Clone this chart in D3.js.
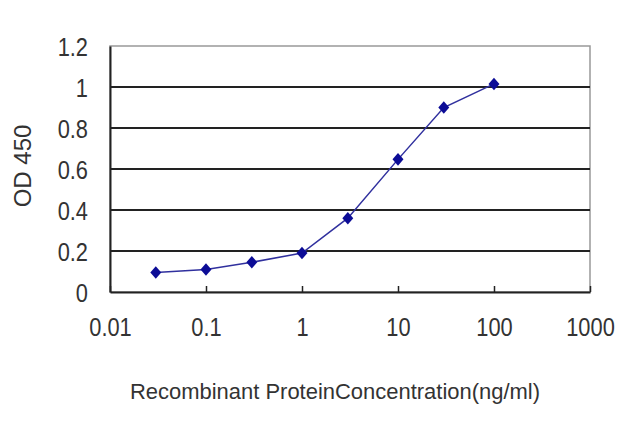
<!DOCTYPE html>
<html>
<head>
<meta charset="utf-8">
<script src="https://cdn.jsdelivr.net/npm/d3@7"></script>
<style>
  body { margin: 0; background: #fff; }
  text { font-family: "Liberation Sans", Arial, sans-serif; fill: #222; }
</style>
</head>
<body>
<div id="chart"></div>
<script>
var width_chart = 640,
    height_chart = 427;

// data
var concentration = [0.03, 0.1, 0.3, 1, 3, 10, 30, 100];
var od450 = [0.095, 0.11, 0.145, 0.19, 0.36, 0.647, 0.9, 1.015];
var x_ticks = [0.01, 0.1, 1, 10, 100, 1000];
var x_tick_labels = ["0.01", "0.1", "1", "10", "100", "1000"];
var y_ticks = [0, 0.2, 0.4, 0.6, 0.8, 1, 1.2];
var y_tick_labels = ["0", "0.2", "0.4", "0.6", "0.8", "1", "1.2"];

var margin = { left: 110, right: 50, top: 46, bottom: 135 };
var plot_w = width_chart - margin.left - margin.right,
    plot_h = height_chart - margin.top - margin.bottom;

var svg = d3.select("#chart").append("svg")
    .attr("width", width_chart)
    .attr("height", height_chart);

var g = svg.append("g")
    .attr("transform", "translate(" + margin.left + "," + margin.top + ")");

var x = d3.scaleLog().domain([0.01, 1000]).range([0, plot_w]);
var y = d3.scaleLinear().domain([0, 1.2]).range([plot_h, 0]);

// grey frame top/right
g.append("rect")
    .attr("x", 0).attr("y", 0)
    .attr("width", plot_w).attr("height", plot_h)
    .style("fill", "none")
    .style("stroke", "#999")
    .style("stroke-width", 1.5);

// gridlines
g.selectAll("line.grid")
    .data(y_ticks.filter(function(d) { return d > 0 && d < 1.2; }))
    .enter().append("line")
    .attr("class", "grid")
    .attr("x1", 0).attr("x2", plot_w)
    .attr("y1", function(d) { return y(d); })
    .attr("y2", function(d) { return y(d); })
    .style("stroke", "#222")
    .style("stroke-width", 2);

// x axis
var xAxis = d3.axisBottom(x)
    .tickValues(x_ticks)
    .tickSizeInner(-6)
    .tickSizeOuter(0)
    .tickFormat(function(d, i) { return x_tick_labels[i]; });

var gx = g.append("g")
    .attr("transform", "translate(0," + plot_h + ")")
    .call(xAxis);
gx.select(".domain").style("stroke", "#222").style("stroke-width", 2);
gx.selectAll(".tick line").style("stroke", "#222").style("stroke-width", 1.5);
gx.selectAll(".tick text")
    .attr("y", 0)
    .attr("dy", 0)
    .attr("transform", "translate(0,44) scale(0.95,1.15)")
    .style("font-size", "23px")
    .style("font-family", "Liberation Sans, Arial, sans-serif")
    .style("fill", "#333");

// y axis
var yAxis = d3.axisLeft(y)
    .tickValues(y_ticks)
    .tickSize(0)
    .tickPadding(22)
    .tickFormat(function(d, i) { return y_tick_labels[i]; });

var gy = g.append("g").call(yAxis);
gy.select(".domain").style("stroke", "#222").style("stroke-width", 2);
gy.selectAll(".tick text")
    .attr("x", 0)
    .attr("dy", 0)
    .attr("transform", "translate(-22,9) scale(0.95,1.15)")
    .style("font-size", "23px")
    .style("font-family", "Liberation Sans, Arial, sans-serif")
    .style("fill", "#333");

// curve
var points = concentration.map(function(c, i) { return { c: c, v: od450[i] }; });

var line = d3.line()
    .x(function(d) { return x(d.c); })
    .y(function(d) { return y(d.v); });

g.append("path")
    .datum(points)
    .attr("d", line)
    .style("fill", "none")
    .style("stroke", "#30309e")
    .style("stroke-width", 1.5);

// square diamond, a bit taller than wide
var diamond = d3.symbol().type(d3.symbolSquare).size(60);

g.selectAll("path.marker")
    .data(points)
    .enter().append("path")
    .attr("class", "marker")
    .attr("d", diamond)
    .attr("transform", function(d) { return "translate(" + x(d.c) + "," + y(d.v) + ") scale(1,1.15) rotate(45)"; })
    .style("fill", "#0c0c96");

// axis titles
svg.append("text")
    .attr("transform", "translate(31,166) rotate(-90)")
    .attr("text-anchor", "middle")
    .style("font-size", "24px")
    .style("fill", "#333")
    .text("OD 450");

svg.append("text")
    .attr("x", 335)
    .attr("y", 399)
    .attr("text-anchor", "middle")
    .attr("textLength", 410)
    .attr("lengthAdjust", "spacingAndGlyphs")
    .style("font-size", "22px")
    .style("fill", "#333")
    .text("Recombinant ProteinConcentration(ng/ml)");
</script>
</body>
</html>
